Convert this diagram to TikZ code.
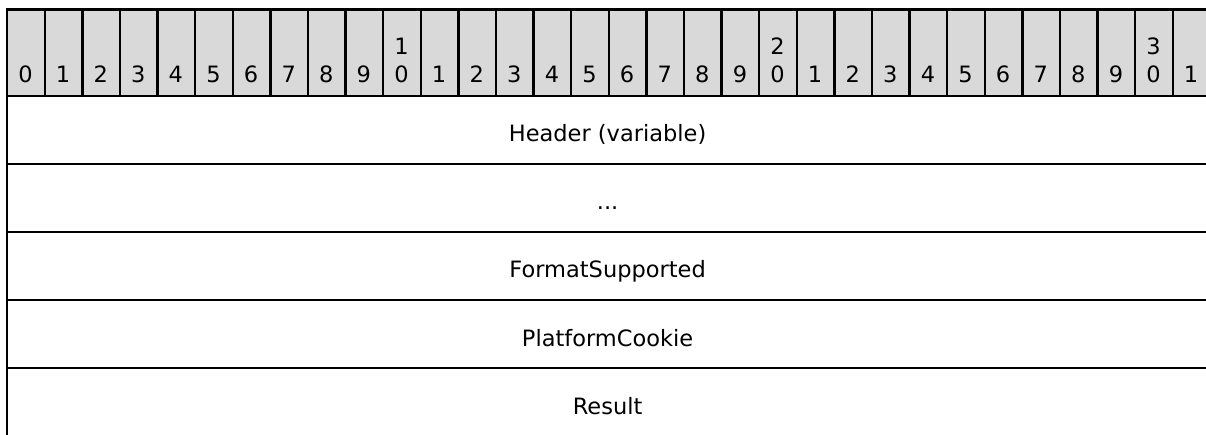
\documentclass[tikz,border=0pt]{standalone}
\usepackage{fontspec}
\setmainfont{DejaVu Sans}
\definecolor{hdrgray}{HTML}{D9D9D9}
\begin{document}
\begin{tikzpicture}[x=1pt,y=-1pt,
  hcell/.style={draw, fill=hdrgray, line width=2.4pt, minimum width=37.6pt, minimum height=86.5pt, inner sep=0pt, anchor=north west},
  rowbox/.style={draw, line width=2.4pt, minimum width=1203.2pt, minimum height=68pt, inner sep=0pt, anchor=north west},
  digit/.style={font=\fontsize{22.5}{25}\selectfont, inner sep=0pt, anchor=base},
  fieldtext/.style={font=\fontsize{22.5}{25}\selectfont, inner sep=0pt, anchor=base}]
\useasboundingbox (0,0) rectangle (1206,435);
% header cells
\foreach \i in {0,...,31}{
  \node[hcell] (h\i) at ({6+37.6*\i},8.5) {};
  \pgfmathtruncatemacro\u{mod(\i,10)}
  \pgfmathtruncatemacro\t{\i/10}
  \node[digit] (d\i) at ({6+37.6*\i+19.5},83) {\u};
  \ifnum\u=0 \ifnum\i>0
    \node[digit] (t\i) at ({6+37.6*\i+19.5},55) {\t};
  \fi\fi
}
% field rows
\node[rowbox] (r0) at (6,95) {};
\node[fieldtext] (f0) at (607.6,142) {Header (variable)};
\node[rowbox] (r1) at (6,163) {};
\node[fieldtext] (f1) at (607.6,210) {...};
\node[rowbox] (r2) at (6,231) {};
\node[fieldtext] (f2) at (607.6,278) {FormatSupported};
\node[rowbox] (r3) at (6,299) {};
\node[fieldtext] (f3) at (607.6,346) {PlatformCookie};
\node[rowbox] (r4) at (6,367) {};
\node[fieldtext] (f4) at (607.6,414) {Result};
\end{tikzpicture}
\end{document}
